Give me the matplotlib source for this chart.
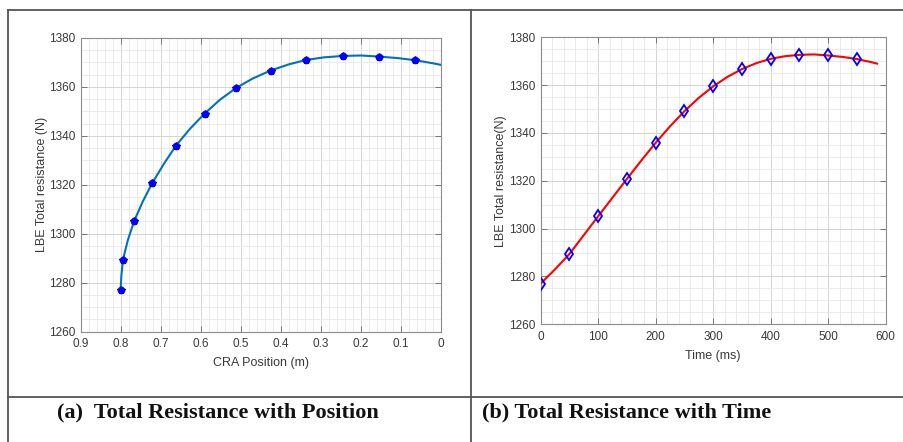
import numpy as np
import matplotlib
matplotlib.use('Agg')
from matplotlib import pyplot as plt
from matplotlib.lines import Line2D
from matplotlib.ticker import MultipleLocator, FuncFormatter

# marker values
time_ms = [0, 50, 100, 150, 200, 250, 300, 350, 400, 450, 500, 550]
position_m = [0.801, 0.795, 0.767, 0.7215, 0.663, 0.591, 0.513, 0.426, 0.338, 0.246, 0.155, 0.064]
resistance_n = [1277.0, 1289.4, 1305.2, 1320.8, 1335.9, 1349.1, 1359.5, 1366.7, 1371.0, 1372.65, 1372.4, 1370.9]

# the solid curves, read at a finer step off the reference
curve_time = [0, 25, 50, 75, 100, 125, 150, 175, 200, 225, 250, 275, 300, 325, 350,
              375, 400, 425, 450, 475, 500, 525, 550, 575, 585]
curve_position = [0.801, 0.799, 0.795, 0.783, 0.767, 0.746, 0.7215, 0.693, 0.663, 0.628,
                  0.591, 0.553, 0.513, 0.470, 0.426, 0.381, 0.338, 0.292, 0.246, 0.200,
                  0.155, 0.109, 0.064, 0.018, 0.0]
curve_resistance = [1277.0, 1283.0, 1289.4, 1297.3, 1305.2, 1313.0, 1320.8, 1328.5, 1335.9,
                    1342.8, 1349.1, 1354.7, 1359.5, 1363.5, 1366.7, 1369.2, 1371.0, 1372.1,
                    1372.65, 1372.85, 1372.4, 1371.8, 1370.9, 1369.6, 1369.0]

caption_a = '(a)  Total Resistance with Position'
caption_b = '(b) Total Resistance with Time'

plt.rcParams['font.family'] = ['Liberation Sans', 'DejaVu Sans']

W, H = 904, 442
fig = plt.figure(figsize=(W / 100, H / 100), dpi=100)


def fx(px):
    return px / W


def fy(py):
    return 1 - py / H


def style_axes(ax, ylabel, xlabel, x_minor):
    ax.set_ylim(1260, 1380)
    ax.yaxis.set_major_locator(MultipleLocator(20))
    ax.yaxis.set_minor_locator(MultipleLocator(5))
    ax.xaxis.set_minor_locator(MultipleLocator(x_minor))
    ax.grid(True, which='major', color='#d4d4d4', lw=0.7)
    ax.grid(True, which='minor', color='#e8e8e8', lw=0.6)
    ax.set_axisbelow(True)
    ax.tick_params(which='major', direction='in', length=4, width=0.7, colors='#777777',
                   labelcolor='#3a3a3a', labelsize=8.5, top=True, right=True)
    ax.tick_params(axis='x', which='major', pad=5)
    ax.tick_params(axis='y', which='major', pad=4)
    ax.tick_params(which='minor', length=0)
    for s in ax.spines.values():
        s.set_color('#8c8c8c')
        s.set_linewidth(0.8)
    ax.set_ylabel(ylabel, fontsize=9, color='#3a3a3a', labelpad=1)
    ax.set_xlabel(xlabel, fontsize=9, color='#3a3a3a', labelpad=5)


def fmt(v, _):
    s = f'{v:.1f}'.rstrip('0').rstrip('.')
    return '0' if s in ('', '-0') else s


# left panel: resistance vs position
ax1 = fig.add_axes([fx(81), fy(331.5), fx(441 - 81), (331.5 - 38) / H])
ax1.plot(curve_position, curve_resistance, color='#0072BD', lw=1.5, zorder=3)
ax1.plot(position_m, resistance_n, ls='none', marker='o', ms=4.5, color='#0000ff', zorder=4)
ax1.plot(position_m, resistance_n, ls='none', marker='*', ms=5.5, color='#0000ff', zorder=4)
ax1.set_xlim(0.9, 0)
ax1.xaxis.set_major_locator(MultipleLocator(0.1))
ax1.xaxis.set_major_formatter(FuncFormatter(fmt))
style_axes(ax1, 'LBE Total resistance (N)', 'CRA Position (m)', 0.02)

# right panel: resistance vs time
ax2 = fig.add_axes([fx(540.7), fy(324.3), fx(885.7 - 540.7), (324.3 - 37.3) / H])
ax2.plot(curve_time, curve_resistance, color='#ff0000', lw=1.5, zorder=3)
ax2.plot(time_ms, resistance_n, ls='none', marker='d', ms=6.5, mfc='none',
         mec='#0000ff', mew=1.3, zorder=4)
ax2.set_xlim(0, 600)
ax2.xaxis.set_major_locator(MultipleLocator(100))
style_axes(ax2, 'LBE Total resistance(N)', 'Time (ms)', 20)

# table frame around the panels
frame = dict(color='#555555', lw=1.3, transform=fig.transFigure)
fig.add_artist(Line2D([fx(8), 1], [fy(10), fy(10)], **frame))
fig.add_artist(Line2D([fx(8), fx(8)], [0, fy(10)], **frame))
fig.add_artist(Line2D([fx(471), fx(471)], [0, fy(10)], **frame))
fig.add_artist(Line2D([fx(8), 1], [fy(396.5), fy(396.5)], **frame))

cap = dict(fontsize=16, fontweight='bold', family=['Liberation Serif', 'DejaVu Serif'],
           va='center', ha='left', color='#111111')
fig.text(fx(57), fy(412.5), caption_a, **cap)
fig.text(fx(482), fy(412.5), caption_b, **cap)

fig.savefig('out.png', dpi=100)
